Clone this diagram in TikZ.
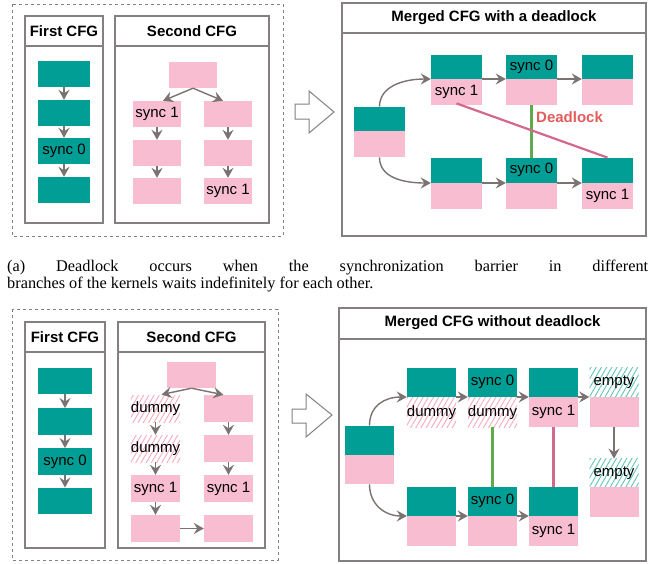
\documentclass[tikz,border=0pt]{standalone}
\usepackage{fontspec}
\setmainfont{Liberation Sans}
\newfontfamily\capfont{Liberation Serif}
\usetikzlibrary{arrows.meta,patterns.meta}
\definecolor{tealc}{HTML}{009E94}
\definecolor{pinkc}{HTML}{F9BDD1}
\definecolor{arrg}{HTML}{7B7371}
\definecolor{frameg}{HTML}{858080}
\definecolor{greenc}{HTML}{5FAA4C}
\definecolor{magc}{HTML}{D4678E}
\definecolor{deadc}{HTML}{E35D5D}
\definecolor{hpink}{HTML}{F5AABF}
\definecolor{hteal}{HTML}{62C4B9}
\tikzset{
  blk/.style={inner sep=0pt, font=\fontsize{15}{15}\selectfont, text=black},
  tl/.style={blk, fill=tealc},
  pk/.style={blk, fill=pinkc},
  hpk/.style={blk, pattern={Lines[angle=60,distance=4.5pt,line width=0.9pt]}, pattern color=hpink},
  htl/.style={blk, pattern={Lines[angle=60,distance=4.5pt,line width=0.9pt]}, pattern color=hteal},
  arr/.style={draw=arrg, line width=1.4pt, -{Stealth[length=10pt,width=11pt,inset=3.5pt]}},
  panel/.style={draw=frameg, line width=1.3pt},
  dbox/.style={draw=frameg, line width=1pt, dash pattern=on 3pt off 3pt},
  ttl/.style={font=\fontsize{15}{15}\selectfont\bfseries, inner sep=0pt},
  hollow/.style={draw=frameg, line width=1pt, fill=white, line join=miter},
  sync/.style={line width=2.2pt},
}
\begin{document}
\begin{tikzpicture}[x=1pt,y=-1pt]
\useasboundingbox (0,0) rectangle (651,563);
\fill[white] (0,0) rectangle (651,563);

% ================= TOP (a) =================
\draw[dbox] (12,4) rectangle (283,236);
\draw[panel] (25,16) rectangle (103,223);
\draw[panel] (25,46) -- (103,46);
\node[ttl] (t1) at (64,31) {First CFG};
\draw[panel] (115,16) rectangle (269,223);
\draw[panel] (115,46) -- (269,46);
\node[ttl] (t2) at (192,31) {Second CFG};

\begin{scope}[every node/.append style={minimum width=52pt, minimum height=26pt}]
\node[tl] (f1) at (64,74) {};
\node[tl] (f2) at (64,113) {};
\node[tl] (f3) at (64,151) {sync 0};
\node[tl] (f4) at (64,190) {};
\end{scope}
\draw[arr] (f1.south) -- (f2.north);
\draw[arr] (f2.south) -- (f3.north);
\draw[arr] (f3.south) -- (f4.north);

\begin{scope}[every node/.append style={minimum width=48pt, minimum height=26pt}]
\node[pk] (s0) at (193,75) {};
\node[pk] (sl1) at (157,114) {sync 1};
\node[pk] (sl2) at (157,153) {};
\node[pk] (sl3) at (157,191) {};
\node[pk] (sr1) at (228,114) {};
\node[pk] (sr2) at (228,153) {};
\node[pk] (sr3) at (228,191) {sync 1};
\end{scope}
\draw[arr] (s0.south) -- ([xshift=6pt]sl1.north);
\draw[arr] (s0.south) -- ([xshift=-5pt]sr1.north);
\draw[arr] (sl1.south) -- (sl2.north);
\draw[arr] (sl2.south) -- (sl3.north);
\draw[arr] (sr1.south) -- (sr2.north);
\draw[arr] (sr2.south) -- (sr3.north);

\draw[hollow] (295,104) -- (309,104) -- (309,91) -- (334,112) -- (309,133) -- (309,119) -- (295,119) -- cycle;

\draw[panel] (342,3) rectangle (646,236);
\draw[panel] (342,33) -- (646,33);
\node[ttl] (t3) at (494,18) {Merged CFG with a deadlock};

\begin{scope}[every node/.append style={minimum width=51pt}]
\node[tl, minimum height=24pt, anchor=south] (aLt) at (379.5,131) {};
\node[pk, minimum height=26pt, anchor=north] (aLp) at (379.5,131) {};
\node[tl, minimum height=24pt, anchor=south] (a1t) at (456.5,79) {};
\node[pk, minimum height=26pt, anchor=north] (a1p) at (456.5,79) {sync 1};
\node[tl, minimum height=24pt, anchor=south] (a2t) at (531.5,79) {sync 0};
\node[pk, minimum height=26pt, anchor=north] (a2p) at (531.5,79) {};
\node[tl, minimum height=24pt, anchor=south] (a3t) at (607.5,79) {};
\node[pk, minimum height=26pt, anchor=north] (a3p) at (607.5,79) {};
\node[tl, minimum height=25pt, anchor=south] (b1t) at (456.5,183) {};
\node[pk, minimum height=26pt, anchor=north] (b1p) at (456.5,183) {};
\node[tl, minimum height=25pt, anchor=south] (b2t) at (531.5,183) {sync 0};
\node[pk, minimum height=26pt, anchor=north] (b2p) at (531.5,183) {};
\node[tl, minimum height=25pt, anchor=south] (b3t) at (607.5,183) {};
\node[pk, minimum height=26pt, anchor=north] (b3p) at (607.5,183) {sync 1};
\end{scope}
\draw[arr] (aLt.north) .. controls +(0,-20) and +(-28,0) .. (a1t.south west);
\draw[arr] (a1t.south east) -- (a2t.south west);
\draw[arr] (a2t.south east) -- (a3t.south west);
\draw[arr] (aLp.south) .. controls +(0,20) and +(-28,0) .. (b1t.south west);
\draw[arr] (b1t.south east) -- (b2t.south west);
\draw[arr] (b2t.south east) -- (b3t.south west);
\draw[sync, draw=greenc] (a2p.south) -- (b2t.north);
\draw[sync, draw=magc] ([yshift=2pt]a1p.south) -- (b3t.north);
\node[font=\fontsize{15}{15}\selectfont\bfseries, text=deadc, inner sep=0pt, anchor=west] (dl) at (536,117) {Deadlock};

% caption
\node[anchor=base west, inner sep=0pt, align=left, font=\capfont\fontsize{16.3}{17}\selectfont] (cap) at (7,288)
  {\makebox[641pt][s]{(a) Deadlock occurs when the synchronization barrier in different}\\
   branches of the kernels waits indefinitely for each other.};

% ================= BOTTOM (b) =================
\draw[dbox] (12,309) rectangle (278,560);
\draw[panel] (25,322) rectangle (105,548);
\draw[panel] (25,352) -- (105,352);
\node[ttl] (t4) at (65,337) {First CFG};
\draw[panel] (118,322) rectangle (265,548);
\draw[panel] (118,352) -- (265,352);
\node[ttl] (t5) at (191.5,337) {Second CFG};

\begin{scope}[every node/.append style={minimum width=54pt, minimum height=26.5pt}]
\node[tl] (g1) at (65,381) {};
\node[tl] (g2) at (65,421.5) {};
\node[tl] (g3) at (65,461.5) {sync 0};
\node[tl] (g4) at (65,501) {};
\end{scope}
\draw[arr] (g1.south) -- (g2.north);
\draw[arr] (g2.south) -- (g3.north);
\draw[arr] (g3.south) -- (g4.north);

\begin{scope}[every node/.append style={minimum width=49pt, minimum height=27pt}]
\node[pk, minimum height=26pt] (u0) at (191.5,375) {};
\node[hpk] (l1) at (155.5,408.5) {dummy};
\node[hpk] (l2) at (155.5,448.5) {dummy};
\node[pk] (l3) at (155.5,488.5) {sync 1};
\node[pk] (l4) at (155.5,528.5) {};
\node[pk] (r1) at (228.5,408.5) {};
\node[pk] (r2) at (228.5,448.5) {};
\node[pk] (r3) at (228.5,488.5) {sync 1};
\node[pk] (r4) at (228.5,528.5) {};
\end{scope}
\draw[arr] (u0.south) -- ([xshift=6pt]l1.north);
\draw[arr] (u0.south) -- ([xshift=-5pt]r1.north);
\draw[arr] (l1.south) -- (l2.north);
\draw[arr] (l2.south) -- (l3.north);
\draw[arr] (l3.south) -- (l4.north);
\draw[arr] (r1.south) -- (r2.north);
\draw[arr] (r2.south) -- (r3.north);
\draw[arr] (l4.east) -- (r4.west);

\draw[hollow] (292,409) -- (306,409) -- (306,394) -- (332,415) -- (306,437) -- (306,423) -- (292,423) -- cycle;

\draw[panel] (339,308) rectangle (646,561);
\draw[panel] (339,339) -- (646,339);
\node[ttl] (t6) at (492.5,323) {Merged CFG without deadlock};

\begin{scope}[every node/.append style={minimum width=49pt}]
\node[tl, minimum height=29pt, anchor=south] (cLt) at (369.5,455) {};
\node[pk, minimum height=29pt, anchor=north] (cLp) at (369.5,455) {};
\node[tl, minimum height=29pt, anchor=south] (c1t) at (431.5,397) {};
\node[hpk, minimum height=30pt, anchor=north] (c1p) at (431.5,397) {dummy};
\node[tl, minimum height=29pt, anchor=south] (c2t) at (492.5,397) {sync 0};
\node[hpk, minimum height=30pt, anchor=north] (c2p) at (492.5,397) {dummy};
\node[tl, minimum height=29pt, anchor=south] (c3t) at (553.5,397) {};
\node[pk, minimum height=30pt, anchor=north] (c3p) at (553.5,397) {sync 1};
\node[htl, minimum height=29pt, anchor=south] (c4t) at (614,397) {empty};
\node[pk, minimum height=30pt, anchor=north] (c4p) at (614,397) {};
\node[htl, minimum height=28pt, anchor=south] (e2t) at (614,487) {empty};
\node[pk, minimum height=30pt, anchor=north] (e2p) at (614,487) {};
\node[tl, minimum height=29pt, anchor=south] (d1t) at (431.5,516) {};
\node[pk, minimum height=30pt, anchor=north] (d1p) at (431.5,516) {};
\node[tl, minimum height=29pt, anchor=south] (d2t) at (492.5,516) {sync 0};
\node[pk, minimum height=30pt, anchor=north] (d2p) at (492.5,516) {};
\node[tl, minimum height=29pt, anchor=south] (d3t) at (553.5,516) {};
\node[pk, minimum height=30pt, anchor=north] (d3p) at (553.5,516) {sync 1};
\end{scope}
\draw[arr] (cLt.north) .. controls +(0,-20) and +(-22,0) .. (c1t.south west);
\draw[arr] (c1t.south east) -- (c2t.south west);
\draw[arr] (c2t.south east) -- (c3t.south west);
\draw[arr] (c3t.south east) -- (c4t.south west);
\draw[arr] (c4p.south) -- (e2t.north);
\draw[arr] (cLp.south) .. controls +(0,20) and +(-22,0) .. (d1t.south west);
\draw[arr] (d1t.south east) -- (d2t.south west);
\draw[arr] (d2t.south east) -- (d3t.south west);
\draw[sync, draw=greenc] (c2p.south) -- (d2t.north);
\draw[sync, draw=magc] (c3p.south) -- (d3t.north);
\end{tikzpicture}
\end{document}
